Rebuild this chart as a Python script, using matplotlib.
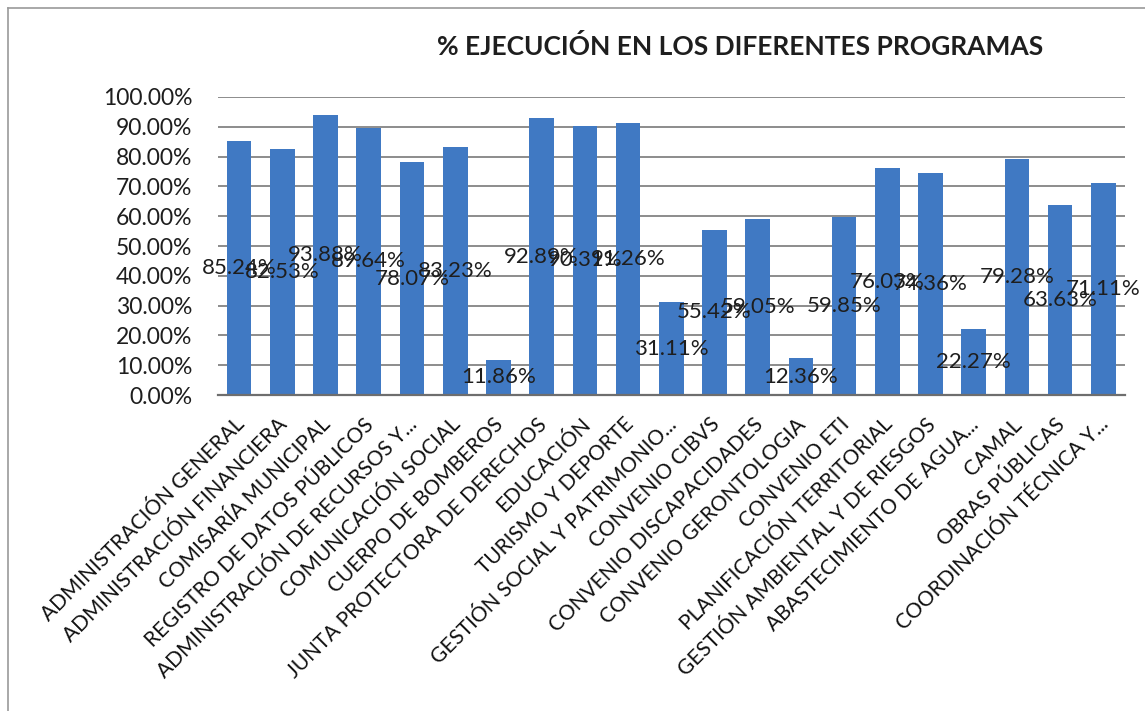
import matplotlib
matplotlib.use("Agg")
import matplotlib.pyplot as plt
import matplotlib.transforms as mtransforms
from matplotlib.ticker import PercentFormatter

# Datos del gráfico
programas = [
    "ADMINISTRACIÓN GENERAL",
    "ADMINISTRACIÓN FINANCIERA",
    "COMISARÍA MUNICIPAL",
    "REGISTRO DE DATOS PÚBLICOS",
    "ADMINISTRACIÓN DE RECURSOS Y...",
    "COMUNICACIÓN SOCIAL",
    "CUERPO DE BOMBEROS",
    "JUNTA PROTECTORA DE DERECHOS",
    "EDUCACIÓN",
    "TURISMO Y DEPORTE",
    "GESTIÓN SOCIAL Y PATRIMONIO...",
    "CONVENIO CIBVS",
    "CONVENIO DISCAPACIDADES",
    "CONVENIO GERONTOLOGIA",
    "CONVENIO ETI",
    "PLANIFICACIÓN TERRITORIAL",
    "GESTIÓN AMBIENTAL Y DE RIESGOS",
    "ABASTECIMIENTO DE AGUA...",
    "CAMAL",
    "OBRAS PÚBLICAS",
    "COORDINACIÓN TÉCNICA Y...",
]
ejecucion = [85.24, 82.53, 93.88, 89.64, 78.07, 83.23, 11.86, 92.89, 90.31,
             91.26, 31.11, 55.42, 59.05, 12.36, 59.85, 76.03, 74.36, 22.27,
             79.28, 63.63, 71.11]
y_ticks = [0, 10, 20, 30, 40, 50, 60, 70, 80, 90, 100]

plt.rcParams['font.family'] = ['Lato', 'DejaVu Sans']

fig = plt.figure(figsize=(11.45, 7.11), dpi=100)
ax = fig.add_axes([0.190, 0.4444, 0.7925, 0.4192])

x = list(range(len(programas)))
ax.bar(x, ejecucion, width=0.57, color='#4079c3', zorder=2)

# etiquetas centradas en la barra
for xi, v in zip(x, ejecucion):
    ax.text(xi, v / 2, f"{v:.2f}%", ha='center', va='center',
            fontsize=16, color='#1e1e1e', zorder=3)

ax.set_xlim(-0.5, len(programas) - 0.5)
ax.set_ylim(0, 100)
ax.set_yticks(y_ticks)
ax.yaxis.set_major_formatter(PercentFormatter(decimals=2))
ax.grid(axis='y', color='#8c8c8c', linewidth=1.4, zorder=0)
ax.set_axisbelow(True)

for s in ['top', 'right', 'left']:
    ax.spines[s].set_visible(False)
ax.spines['bottom'].set_color('#6e6e6e')
ax.spines['bottom'].set_linewidth(1.6)

ax.tick_params(axis='y', length=0, pad=18, labelsize=16.5, labelcolor='#1e1e1e')
ax.tick_params(axis='x', length=0, pad=0)
ax.set_xticks(x)
ax.set_xticklabels(programas, rotation=45, ha='right', va='center',
                   rotation_mode='anchor', fontsize=15, color='#111111')
offset = mtransforms.ScaledTranslation(1.5 / 72, -19 / 72, fig.dpi_scale_trans)
for lbl in ax.get_xticklabels():
    lbl.set_transform(lbl.get_transform() + offset)

fig.text(0.646, 0.935, "% EJECUCIÓN EN LOS DIFERENTES PROGRAMAS",
         ha='center', va='center', fontsize=19, fontweight='bold',
         color='#1e1e1e')

# marco del gráfico
fig.add_artist(plt.Line2D([0.007, 0.007], [0.0, 0.989], color='#9a9a9a',
                          linewidth=1.2, transform=fig.transFigure))
fig.add_artist(plt.Line2D([0.007, 1.0], [0.989, 0.989], color='#9a9a9a',
                          linewidth=1.2, transform=fig.transFigure))

fig.savefig("out.png", dpi=100)
